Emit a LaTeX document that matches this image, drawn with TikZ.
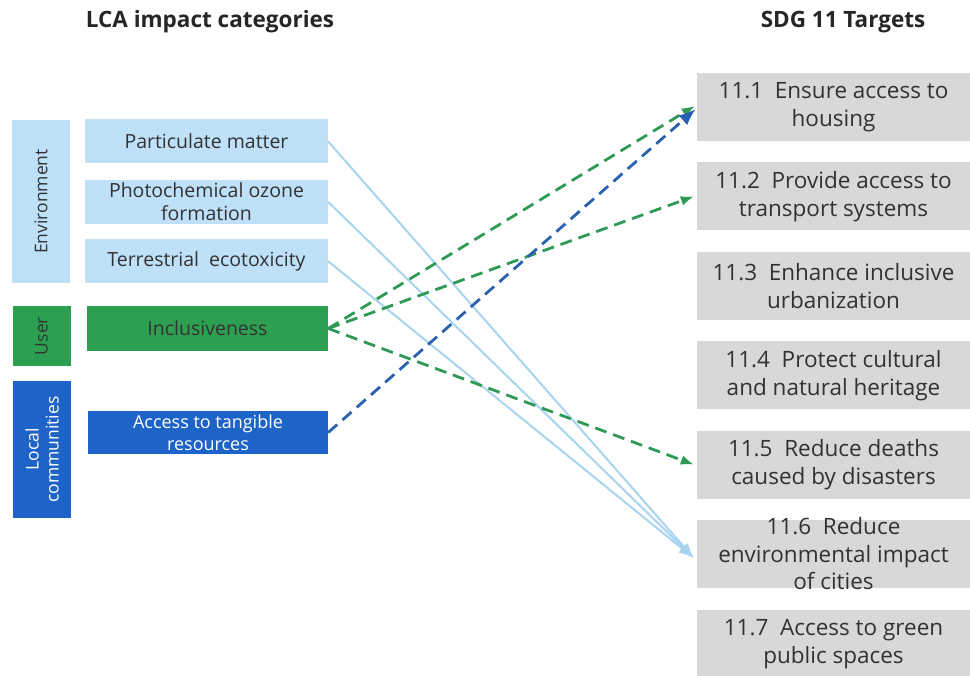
\documentclass[tikz,border=0pt]{standalone}
\usepackage{fontspec}
\setmainfont{Open Sans}
\usetikzlibrary{arrows.meta,positioning}
\definecolor{envfill}{RGB}{190,224,249}
\definecolor{usergreen}{RGB}{44,160,80}
\definecolor{localblue}{RGB}{30,100,200}
\definecolor{targetgray}{RGB}{216,216,216}
\definecolor{textgray}{RGB}{50,50,50}
\definecolor{envline}{RGB}{168,212,240}
\definecolor{greenline}{RGB}{46,154,85}
\definecolor{blueline}{RGB}{42,96,176}

\begin{document}
\begin{tikzpicture}[
  x=1pt,y=-1pt,
  font=\fontsize{19.5}{23}\selectfont,
  >=Latex,
  title/.style={
    font=\bfseries\fontsize{22.5}{26}\selectfont,
    text=black!85
  },
  group/.style={
    rotate=90,
    align=center,
    minimum height=58pt,
    inner sep=1pt,
    font=\fontsize{17.5}{20}\selectfont
  },
  category/.style={
    align=center,
    minimum width=243pt,
    minimum height=44pt,
    inner sep=2pt
  },
  target/.style={
    fill=targetgray,
    text=textgray,
    align=center,
    minimum width=273pt,
    minimum height=68pt,
    inner sep=2pt,
    font=\fontsize{22.5}{28}\selectfont
  },
  envflow/.style={-{Latex[length=15pt,width=11pt]},envline,line width=2pt},
  userflow/.style={-{Latex[length=13pt,width=10pt]},greenline,line width=2.8pt,dash pattern=on 12pt off 7pt},
  localflow/.style={-{Latex[length=17pt,width=13pt]},blueline,line width=2.8pt,dash pattern=on 12pt off 7pt}
]
\useasboundingbox (0,0) rectangle (970,676);
\node[title] (lcatitle) at (210,22) {LCA impact categories};
\node[title] (sdgtitle) at (843,22) {SDG 11 Targets};

\node[group,fill=envfill,text=textgray,minimum width=163pt] (environment) at (41,201.5) {Environment};
\node[group,fill=usergreen,text=black!80,minimum width=60pt] (user) at (41.5,336) {User};
\node[group,fill=localblue,text=white,minimum width=137pt] (local) at (42,449.5) {Local\\communities};

\node[category,fill=envfill,text=textgray] (particulate) at (206.5,141.5) {Particulate matter};
\node[category,fill=envfill,text=textgray,below=16pt of particulate] (ozone) {Photochemical ozone\\formation};
\node[category,fill=envfill,text=textgray,below=15pt of ozone] (ecotox) {Terrestrial\ \ ecotoxicity};
\node[category,fill=usergreen,text=black!80,minimum width=241pt,minimum height=45pt] (inclusive) at (207.5,328.5) {Inclusiveness};
\node[category,fill=localblue,text=white,minimum width=240pt,minimum height=43pt,font=\fontsize{18}{22}\selectfont] (tangible) at (208,432.5) {Access to tangible\\resources};

\node[target] (t1) at (833.5,107) {11.1\ \ Ensure access to\\housing};
\node[target,below=21pt of t1] (t2) {11.2\ \ Provide access to\\transport systems};
\node[target,below=21pt of t2] (t3) {11.3\ \ Enhance inclusive\\urbanization};
\node[target,below=21pt of t3] (t4) {11.4\ \ Protect cultural\\and natural heritage};
\node[target,below=21pt of t4] (t5) {11.5\ \ Reduce deaths\\caused by disasters};
\node[target,below=21pt of t5,inner ysep=-10pt,font=\fontsize{22.5}{27.5}\selectfont] (t6) {11.6\ \ Reduce\\environmental impact\\of cities};
\node[target,below=22pt of t6] (t7) {11.7\ \ Access to green\\public spaces};

\draw[envflow] (particulate.east) -- ([xshift=-3pt,yshift=-4pt]t6.west);
\draw[envflow] (ozone.east) -- ([xshift=-3pt,yshift=-4pt]t6.west);
\draw[envflow] (ecotox.east) -- ([xshift=-3pt,yshift=-4pt]t6.west);
\draw[userflow] (inclusive.east) -- ([xshift=-2pt,yshift=1pt]t1.west);
\draw[userflow] (inclusive.east) -- ([xshift=-3pt]t2.west);
\draw[userflow] (inclusive.east) -- ([xshift=-3pt]t5.west);
\draw[localflow] (tangible.east) -- ([xshift=-1pt,yshift=-2pt]t1.west);
\end{tikzpicture}
\end{document}
